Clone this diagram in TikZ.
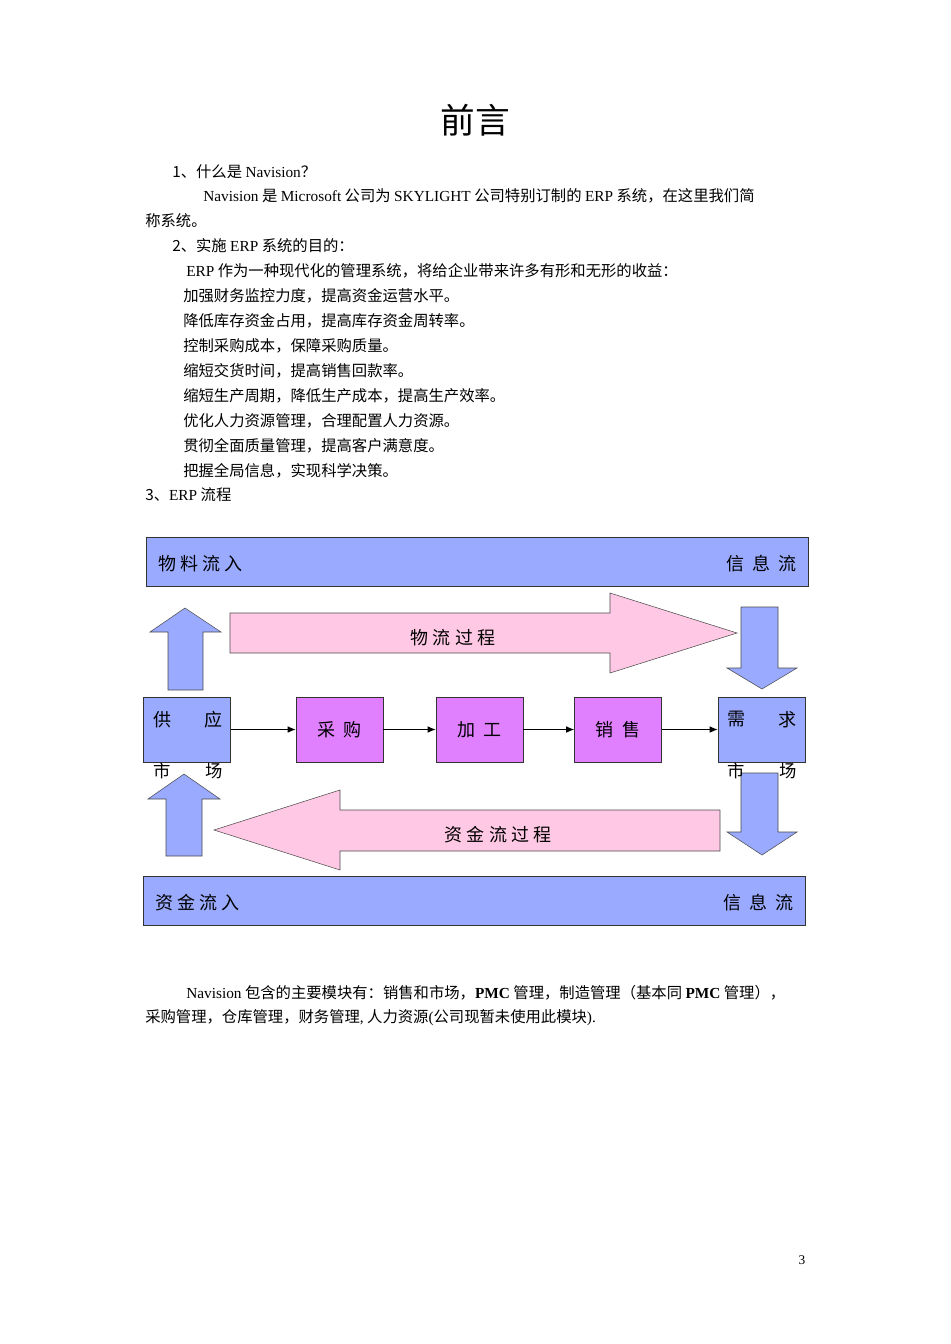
\documentclass[tikz,border=0pt]{standalone}
\usepackage{fontspec}
\setmainfont{Liberation Serif}
\newfontfamily\cjk{Noto Sans CJK SC}
\newcommand\ltn[1]{{\rmfamily #1}}
\usetikzlibrary{arrows.meta}
\begin{document}
\begin{tikzpicture}[x=0.75pt,y=-0.75pt,
  txt/.style={anchor=west,inner sep=0,font=\cjk\fontsize{11.5pt}{13pt}\selectfont},
  bar/.style={draw=black!80,fill=blue!40!white!80!cyan!0,fill={rgb,255:red,153;green,170;blue,255}},
  bluearr/.style={draw=black!70,fill={rgb,255:red,153;green,170;blue,255}},
  pinkarr/.style={draw=black!70,fill={rgb,255:red,255;green,200;blue,228}},
  mbox/.style={draw=black!80,fill={rgb,255:red,224;green,128;blue,255},minimum width=65.25pt,minimum height=48.75pt,inner sep=0},
  sbox/.style={draw=black!80,fill={rgb,255:red,153;green,170;blue,255},minimum width=65.25pt,minimum height=48.75pt,inner sep=0},
  dt/.style={font=\cjk\fontsize{13.5pt}{15pt}\selectfont,inner sep=0},
  link/.style={-{Latex[length=6pt,width=5pt]},thick}]
\useasboundingbox[fill=white] (0,0) rectangle (950,1344);
\node[inner sep=0,font=\cjk\fontsize{26pt}{30pt}\selectfont] (title) at (475,120) {前言};
\node[txt] (l1) at (172,172) {1、什么是 \ltn{Navision}？};
\node[txt] (l2) at (203,196) {\ltn{Navision} 是 \ltn{Microsoft} 公司为 \ltn{SKYLIGHT} 公司特别订制的 \ltn{ERP} 系统，在这里我们简};
\node[txt] (l3) at (145,221) {称系统。};
\node[txt] (l4) at (172,246) {2、实施 \ltn{ERP} 系统的目的：};
\node[txt] (l5) at (186,271) {\ltn{ERP} 作为一种现代化的管理系统，将给企业带来许多有形和无形的收益：};
\node[txt] (l6) at (183,296) {加强财务监控力度，提高资金运营水平。};
\node[txt] (l7) at (183,321) {降低库存资金占用，提高库存资金周转率。};
\node[txt] (l8) at (183,346) {控制采购成本，保障采购质量。};
\node[txt] (l9) at (183,371) {缩短交货时间，提高销售回款率。};
\node[txt] (l10) at (183,396) {缩短生产周期，降低生产成本，提高生产效率。};
\node[txt] (l11) at (183,421) {优化人力资源管理，合理配置人力资源。};
\node[txt] (l12) at (183,446) {贯彻全面质量管理，提高客户满意度。};
\node[txt] (l13) at (183,471) {把握全局信息，实现科学决策。};
\node[txt] (l14) at (145,495) {3、\ltn{ERP} 流程};
% top and bottom bars
\draw[bar] (146,537) rectangle (808,586);
\node[dt,anchor=west] (wl) at (158,564) {物 料 流 入};
\node[dt,anchor=east] (xx1) at (797,564) {信\ \ 息\ \ 流};
\draw[bar] (143,876) rectangle (805,925);
\node[dt,anchor=west] (zj) at (155,903) {资 金 流 入};
\node[dt,anchor=east] (xx2) at (794,903) {信\ \ 息\ \ 流};
% blue vertical arrows
\draw[bluearr] (168,690) -- (168,632) -- (150,632) -- (185,608) -- (221,632) -- (203,632) -- (203,690) -- cycle;
\draw[bluearr] (166,856) -- (166,799) -- (148,799) -- (184,774) -- (220,799) -- (202,799) -- (202,856) -- cycle;
\draw[bluearr] (741,607) -- (778,607) -- (778,668) -- (797,668) -- (762,689) -- (727,668) -- (741,668) -- cycle;
\draw[bluearr] (741,773) -- (778,773) -- (778,832) -- (797,832) -- (762,855) -- (727,832) -- (741,832) -- cycle;
% pink arrows
\draw[pinkarr] (230,613) -- (610,613) -- (610,593) -- (737,633) -- (610,673) -- (610,653) -- (230,653) -- cycle;
\node[dt] (wlgc) at (453,638) {物\ 流\ 过\ 程};
\draw[pinkarr] (720,810) -- (340,810) -- (340,790) -- (214,830) -- (340,870) -- (340,851) -- (720,851) -- cycle;
\node[dt] (zjgc) at (498,835) {资\ 金\ 流\ 过\ 程};
% boxes
\node[sbox] (gy) at (187,729.5) {};
\node[dt,anchor=north west] at (153,711) {供};
\node[dt,anchor=north east] at (223,711) {应};
\node[dt,font=\cjk\fontsize{13pt}{15pt}\selectfont] (sc1) at (188,771) {市\qquad 场};
\node[mbox] (cg) at (339.5,729.5) {};
\node[dt] at (cg) {\raisebox{-2pt}{采\ \ 购}};
\node[mbox] (jg) at (479.5,729.5) {};
\node[dt] at (jg) {\raisebox{-2pt}{加\ \ 工}};
\node[mbox] (xs) at (618,729.5) {};
\node[dt] at (xs) {\raisebox{-2pt}{销\ \ 售}};
\node[sbox] (xq) at (761.5,729.5) {};
\node[dt,anchor=north west] at (727,711) {需};
\node[dt,anchor=north east] at (797,711) {求};
\node[dt,font=\cjk\fontsize{13pt}{15pt}\selectfont] (sc2) at (762,771) {市\qquad 场};
\draw[link] (gy.east) -- (cg.west);
\draw[link] (cg.east) -- (jg.west);
\draw[link] (jg.east) -- (xs.west);
\draw[link] (xs.east) -- (xq.west);
% closing text
\node[txt] (m1) at (186,993) {\ltn{Navision} 包含的主要模块有：销售和市场，\ltn{\bfseries PMC} 管理，制造管理（基本同 \ltn{\bfseries PMC} 管理），};
\node[txt] (m2) at (145,1018) {采购管理，仓库管理，财务管理\ltn{,} 人力资源\ltn{(}公司现暂未使用此模块\ltn{).}};
\node[inner sep=0,font=\rmfamily\fontsize{10pt}{12pt}\selectfont] (pg) at (802,1260) {3};
\end{tikzpicture}
\end{document}
